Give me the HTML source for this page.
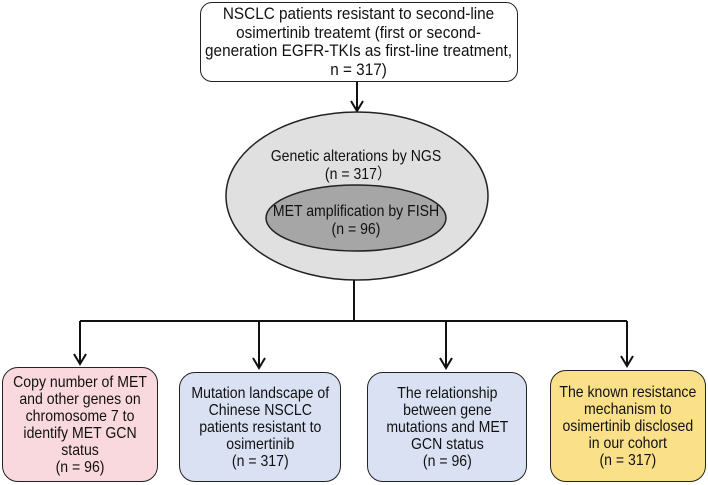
<!DOCTYPE html>
<html><head><meta charset="utf-8"><style>
body{margin:0;width:708px;height:485px;background:#fff;font-family:"Liberation Sans",sans-serif;position:relative;overflow:hidden}
.b{position:absolute;box-sizing:border-box;border:1.5px solid #222;border-radius:16px;display:flex;align-items:center;justify-content:center;text-align:center;font-size:16px;line-height:17px;color:#111;white-space:nowrap}
.b span{display:inline-block;transform:scaleX(0.88)}
</style></head><body>
<svg width="708" height="485" style="position:absolute;left:0;top:0">
<g stroke="#111" stroke-width="2" fill="none">
<line x1="357" y1="82" x2="357" y2="110"/>
<path d="M351,101 L357,111 L363,101"/>
<line x1="354" y1="280" x2="354" y2="321"/>
<line x1="80" y1="321" x2="627" y2="321"/>
<line x1="80" y1="321" x2="80" y2="364"/><path d="M74,354 L80,364 L86,354"/>
<line x1="259" y1="321" x2="259" y2="368"/><path d="M253,358 L259,368 L265,358"/>
<line x1="446" y1="321" x2="446" y2="368"/><path d="M440,358 L446,368 L452,358"/>
<line x1="627" y1="321" x2="627" y2="366"/><path d="M621,356 L627,366 L633,356"/>
</g>
<ellipse cx="357" cy="196" rx="131" ry="84" fill="#e0e0e0" stroke="#222" stroke-width="1.5"/>
<ellipse cx="356" cy="218" rx="90" ry="33" fill="#a6a6a6" stroke="#222" stroke-width="1.5"/>
<g font-size="16" fill="#111" text-anchor="middle">
<text x="356" y="161" transform="translate(356 0) scale(0.88 1) translate(-356 0)">Genetic alterations by NGS</text>
<text x="358" y="179" transform="translate(358 0) scale(0.88 1) translate(-358 0)">(n = 317）</text>
<text x="356" y="216" transform="translate(356 0) scale(0.88 1) translate(-356 0)">MET amplification by FISH</text>
<text x="356" y="234" transform="translate(356 0) scale(0.88 1) translate(-356 0)">(n = 96)</text>
</g>
</svg>
<div class="b" style="left:200px;top:2px;width:318px;height:80px;font-size:17px;line-height:18.5px;border-radius:12px"><span style="transform:scaleX(0.9)">NSCLC patients resistant to second-line<br>osimertinib treatemt (first or second-<br>generation EGFR-TKIs as first-line treatment,<br>n = 317)</span></div>
<div class="b" style="left:2px;top:367px;width:156px;height:115px;background:#f9d9de"><span>Copy number of MET<br>and other genes on<br>chromosome 7 to<br>identify MET GCN<br>status<br>(n = 96)</span></div>
<div class="b" style="left:179px;top:372px;width:162px;height:110px;background:#d9e1f3"><span>Mutation landscape of<br>Chinese NSCLC<br>patients resistant to<br>osimertinib<br>(n = 317)</span></div>
<div class="b" style="left:367px;top:372px;width:160px;height:110px;background:#d9e1f3"><span>The relationship<br>between gene<br>mutations and MET<br>GCN status<br>(n = 96)</span></div>
<div class="b" style="left:550px;top:370px;width:156px;height:112px;background:#fbe08a"><span>The known resistance<br>mechanism to<br>osimertinib disclosed<br>in our cohort<br>(n = 317)</span></div>
</body></html>
